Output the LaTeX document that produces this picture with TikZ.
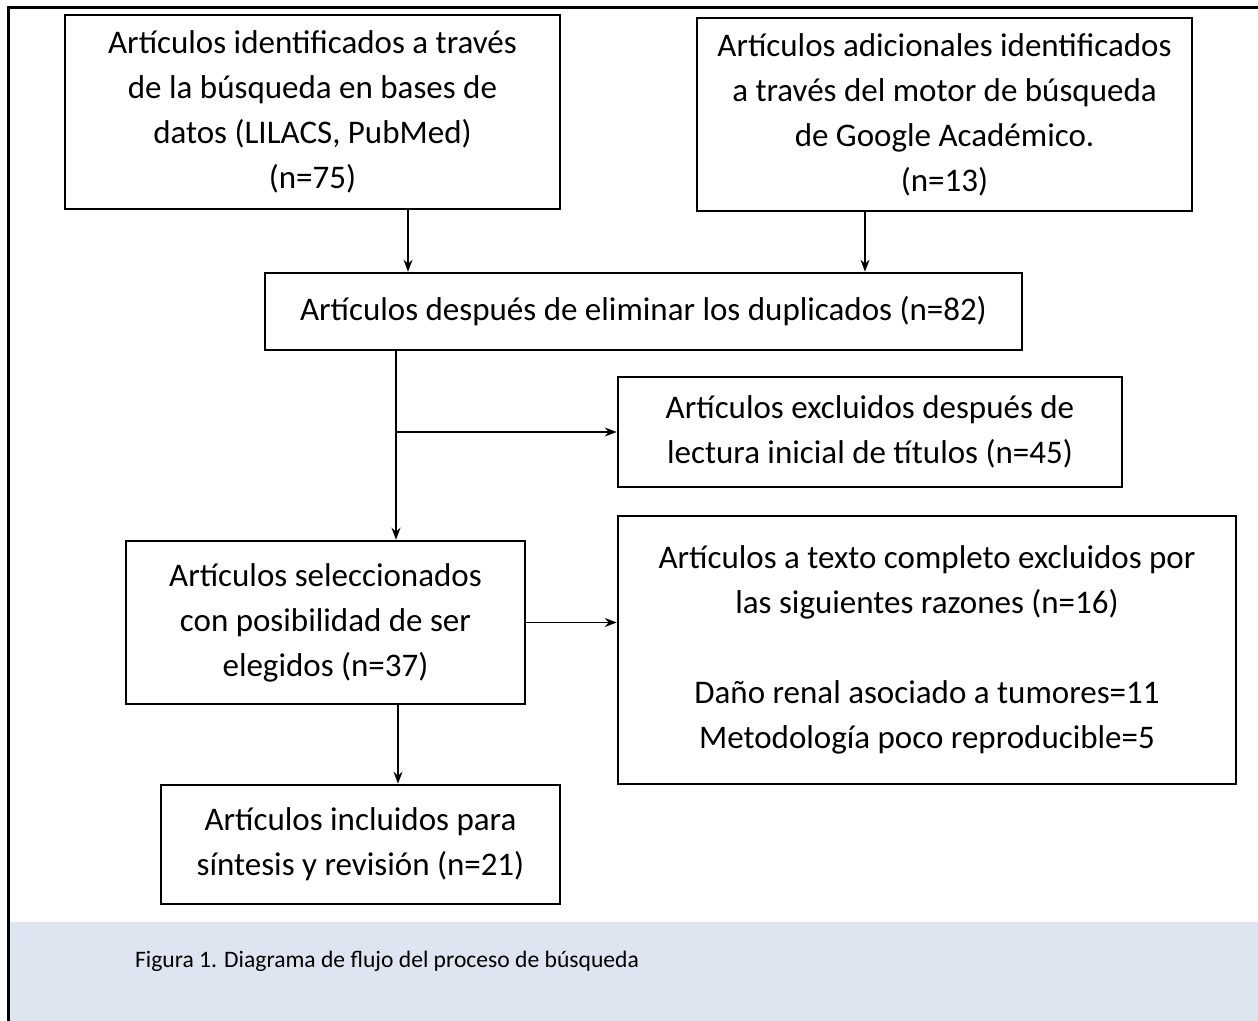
\documentclass[tikz,border=0pt]{standalone}
\usepackage{fontspec}
\setmainfont{Carlito}
\usetikzlibrary{arrows.meta,calc}
\definecolor{bandblue}{HTML}{DFE5F0}
\tikzset{
  box/.style={draw,line width=1.3pt,align=center,inner sep=0pt,
    font=\fontsize{16.5}{22.5}\selectfont},
  arr/.style={line width=0.7pt,-{Stealth[length=6pt,width=4.5pt]}}
}
\begin{document}
\begin{tikzpicture}[x=0.5pt,y=-0.5pt]
  \useasboundingbox (0,0) rectangle (1258,1021);
  % caption band and frame
  \fill[bandblue] (10,922) rectangle (1258,1021);
  \draw[line width=1.5pt] (8,1021) -- (8,8) -- (1258,8);
  \node[anchor=west,font=\fontsize{11.8}{14}\selectfont] (cap) at (128,961)
    {Figura 1. Diagrama de flujo del proceso de búsqueda};

  \node[box,minimum width=247.5pt,minimum height=97pt] (b1) at (312.5,112)
    {Artículos identificados a través\\de la búsqueda en bases de\\datos (LILACS, PubMed)\\(n=75)};
  \node[box,minimum width=247.5pt,minimum height=96.5pt] (b2) at (944.5,114.5)
    {Artículos adicionales identificados\\a través del motor de búsqueda\\de Google Académico.\\(n=13)};
  \node[box,minimum width=378.5pt,minimum height=38.5pt] (b3) at (643.5,311.5)
    {\raisebox{3.5pt}{Artículos después de eliminar los duplicados (n=82)}};
  \node[box,minimum width=252pt,minimum height=55pt] (b4) at (870,432)
    {Artículos excluidos después de\\lectura inicial de títulos (n=45)};
  \node[box,minimum width=199.5pt,minimum height=81.5pt] (b5) at (325.5,622.5)
    {Artículos seleccionados\\con posibilidad de ser\\elegidos (n=37)};
  \node[box,minimum width=309pt,minimum height=134pt] (b6) at (927,650)
    {Artículos a texto completo excluidos por\\las siguientes razones (n=16)\\[22.5pt]
     Daño renal asociado a tumores=11\\Metodología poco reproducible=5};
  \node[box,minimum width=199.5pt,minimum height=59.5pt] (b7) at (360.5,844.5)
    {Artículos incluidos para\\síntesis y revisión (n=21)};

  % connectors
  \draw[arr] ([xshift=47.75pt]b1.south) -- ([xshift=47.75pt]b1.south |- b3.north);
  \draw[arr] ([xshift=-39.75pt]b2.south) -- ([xshift=-39.75pt]b2.south |- b3.north);
  \coordinate (j) at ([xshift=-123.75pt]b3.south);
  \draw[arr] (j) -- (j |- b5.north);
  \draw[arr] (b4.west -| j) -- (b4.west);
  \draw[arr] (b5.east) -- (b5.east -| b6.west);
  \draw[arr] ([xshift=36.25pt]b5.south) -- ([xshift=36.25pt]b5.south |- b7.north);
\end{tikzpicture}
\end{document}
